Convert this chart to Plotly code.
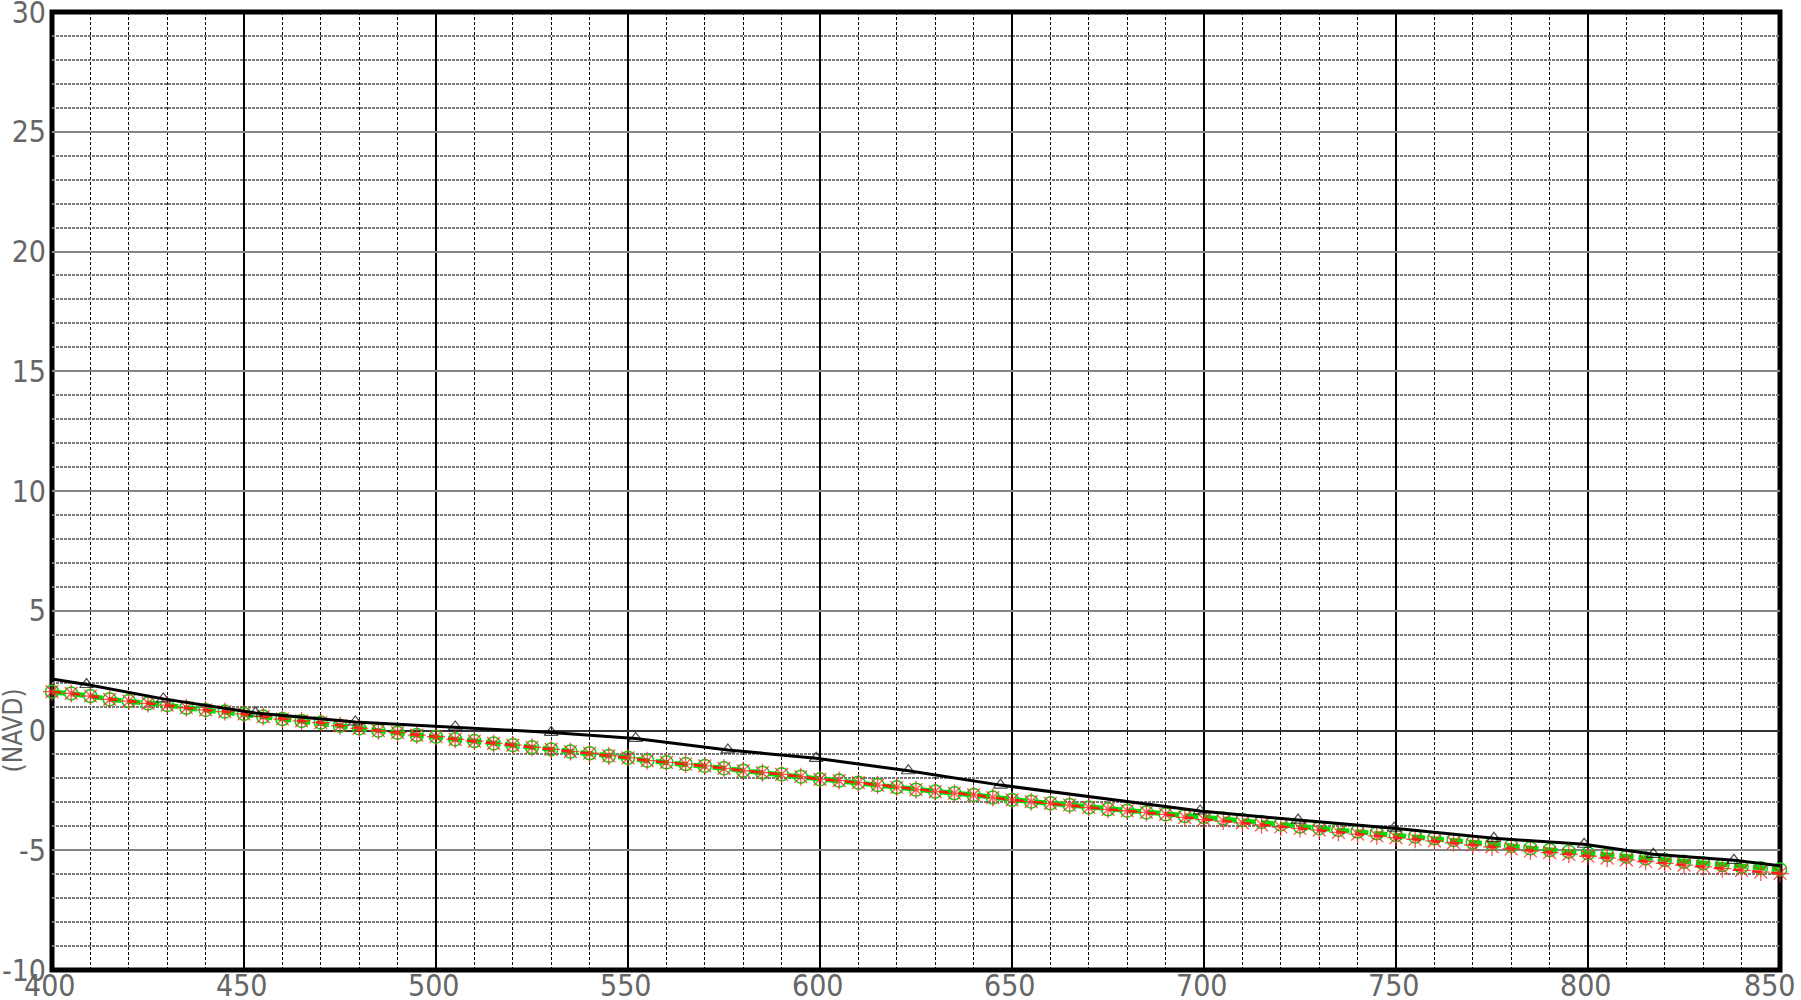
import plotly.graph_objects as go

# ---- data ----
# black profile line (vertices); triangles drawn at interior vertices
black_x = [400, 409, 429, 453, 479, 505, 530, 552, 576, 599, 623, 647, 699,
           724.5, 749.5, 775.5, 799, 817, 838, 850]
black_y = [2.15, 1.92, 1.32, 0.73, 0.36, 0.15, -0.08, -0.33, -0.81, -1.16,
           -1.68, -2.28, -3.36, -3.74, -4.08, -4.50, -4.75, -5.17, -5.42, -5.65]

series_x = list(range(400, 851, 5))
green_y = [1.62, 1.55, 1.44, 1.30, 1.23, 1.13, 1.06, 0.95, 0.86, 0.79,
           0.69, 0.58, 0.48, 0.40, 0.33, 0.20, 0.09, -0.01, -0.09, -0.19,
           -0.26, -0.37, -0.44, -0.54, -0.61, -0.70, -0.79, -0.88, -0.95, -1.06,
           -1.14, -1.26, -1.33, -1.40, -1.48, -1.58, -1.68, -1.76, -1.83, -1.93,
           -2.04, -2.09, -2.18, -2.28, -2.37, -2.47, -2.55, -2.62, -2.69, -2.80,
           -2.90, -2.97, -3.04, -3.11, -3.21, -3.29, -3.35, -3.42, -3.50, -3.57,
           -3.62, -3.67, -3.74, -3.82, -3.92, -4.01, -4.08, -4.15, -4.22, -4.29,
           -4.37, -4.43, -4.50, -4.57, -4.67, -4.74, -4.82, -4.92, -4.99, -5.06,
           -5.13, -5.20, -5.27, -5.34, -5.41, -5.48, -5.55, -5.62, -5.69, -5.75,
           -5.80]
red_y = [1.62, 1.55, 1.44, 1.30, 1.23, 1.13, 1.06, 0.95, 0.86, 0.79,
         0.69, 0.58, 0.48, 0.40, 0.33, 0.20, 0.09, -0.01, -0.09, -0.19,
         -0.26, -0.37, -0.44, -0.54, -0.61, -0.70, -0.79, -0.88, -0.95, -1.06,
         -1.14, -1.26, -1.33, -1.40, -1.48, -1.58, -1.68, -1.76, -1.83, -1.93,
         -2.04, -2.09, -2.18, -2.28, -2.37, -2.47, -2.55, -2.62, -2.69, -2.80,
         -2.90, -2.97, -3.04, -3.11, -3.21, -3.29, -3.35, -3.42, -3.50, -3.63,
         -3.72, -3.78, -3.86, -3.94, -4.03, -4.09, -4.16, -4.25, -4.33, -4.40,
         -4.47, -4.54, -4.61, -4.68, -4.78, -4.86, -4.94, -5.03, -5.10, -5.17,
         -5.25, -5.33, -5.40, -5.47, -5.55, -5.62, -5.69, -5.77, -5.84, -5.91,
         -5.97]

x_ticks = [400, 450, 500, 550, 600, 650, 700, 750, 800, 850]
y_ticks = [-10, -5, 0, 5, 10, 15, 20, 25, 30]
y_title = "(NAVD)"

FONT = "DejaVu Sans Condensed, DejaVu Sans, sans-serif"
LABEL_COLOR = "#666"

fig = go.Figure()

fig.add_trace(go.Scatter(
    x=series_x, y=green_y, mode="lines+markers", cliponaxis=False,
    line=dict(color="#00e000", width=5, dash="13px,6px"),
    marker=dict(symbol="circle-open", size=13, color="#10d010",
                line=dict(width=1.5, color="#10d010")),
    showlegend=False))

fig.add_trace(go.Scatter(
    x=series_x, y=red_y, mode="lines+markers", cliponaxis=False,
    line=dict(color="#ff1010", width=2.5, dash="9px,10px"),
    marker=dict(symbol="asterisk-open", size=15, color="rgba(255,40,40,0.8)",
                line=dict(width=1.3, color="rgba(255,40,40,0.8)")),
    showlegend=False))

sizes = [0] + [12] * (len(black_x) - 2) + [0]
fig.add_trace(go.Scatter(
    x=black_x, y=black_y, mode="lines+markers", cliponaxis=False,
    line=dict(color="black", width=3),
    marker=dict(symbol="triangle-up-open", size=sizes, color="black",
                line=dict(width=1.2, color="black")),
    showlegend=False))

fig.add_shape(type="rect", xref="paper", yref="paper", x0=0, x1=1, y0=0, y1=1,
              line=dict(color="black", width=5), layer="between")

fig.add_annotation(text=y_title, xref="paper", yref="y", x=-0.0226, y=0,
                   xanchor="center", yanchor="middle", textangle=-90,
                   showarrow=False,
                   font=dict(family=FONT, size=26, color=LABEL_COLOR))

# x tick labels as text below the axis (last one kept inside the page)
for i, v in enumerate(x_ticks):
    last = i == len(x_ticks) - 1
    fig.add_annotation(text=str(v), xref="x", yref="paper", x=v, y=0,
                       xanchor="right" if last else "center", yanchor="top",
                       xshift=18 if last else -2, yshift=4, showarrow=False,
                       font=dict(family=FONT, size=30, color=LABEL_COLOR))

fig.update_xaxes(
    range=[400, 850], tickvals=x_ticks, showticklabels=False,
    showgrid=True, gridcolor="black", gridwidth=2, zeroline=False,
    showline=False, ticks="", automargin=False,
    minor=dict(dtick=10, showgrid=True, gridcolor="black", gridwidth=1,
               griddash="3px,2px", ticks=""))

fig.update_yaxes(
    range=[-10, 30], tickvals=y_ticks, ticktext=[str(v) for v in y_ticks],
    showgrid=True, gridcolor="#858585", gridwidth=2,
    zeroline=True, zerolinecolor="#333", zerolinewidth=2,
    showline=False, ticks="", ticklabelstandoff=5, automargin=False,
    ticklabeloverflow="allow",
    tickfont=dict(family=FONT, size=30, color=LABEL_COLOR),
    minor=dict(dtick=1, showgrid=True, gridcolor="#7a7a7a", gridwidth=1.5,
               griddash="3px,1px", ticks=""))

fig.update_layout(
    width=1801, height=1000,
    margin=dict(l=52, r=21, t=12, b=30, autoexpand=False),
    paper_bgcolor="white", plot_bgcolor="white",
    font=dict(family=FONT),
)

fig.write_html("out.html",
               config={"displayModeBar": False},
               post_script="document.body.style.margin='0';"
                           "document.body.style.overflow='hidden';")
